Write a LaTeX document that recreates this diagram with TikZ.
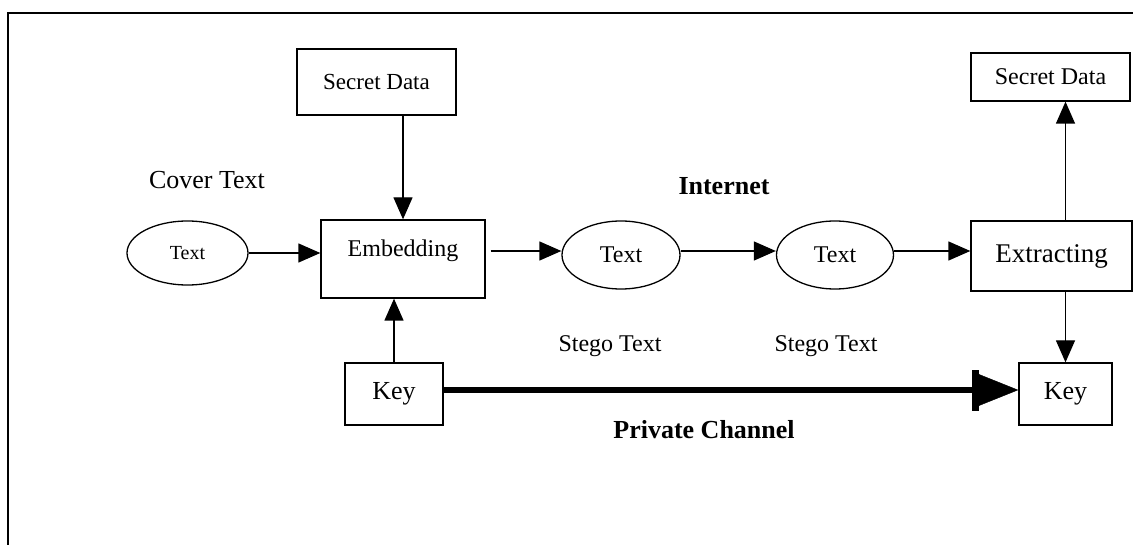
\documentclass[tikz,border=0pt]{standalone}
\usepackage{fontspec}
\setmainfont{Liberation Serif}
\usetikzlibrary{arrows.meta,shapes.geometric,calc}
\begin{document}
\begin{tikzpicture}[x=1pt,y=-1pt,
  box/.style={draw,line width=1.3pt,rectangle,inner sep=0pt,anchor=center},
  oval/.style={draw,line width=1.3pt,ellipse,inner sep=0pt,anchor=center},
  lbl/.style={inner sep=0pt,anchor=center},
  arr/.style={line width=1.3pt,-{Triangle[length=22pt,width=19pt]}},
  thickarr/.style={line width=5.5pt,-{Rectangle[length=6pt,width=40pt,line width=0.5pt] Triangle[length=40pt,width=32pt,line width=0.5pt]}},
  fs/.style={font=\fontsize{#1}{#1}\selectfont}
]
\useasboundingbox (0,0) rectangle (1133,545);
% outer frame (top and left edges)
\draw[line width=1.5pt] (8,545) -- (8,13) -- (1133,13);

% nodes
\node[box,fs=23,minimum width=159pt,minimum height=66pt] (sd1) at (376.5,82) {Secret Data};
\node[lbl,fs=26] (cover) at (207,180) {Cover Text};
\node[oval,fs=20,minimum width=121pt,minimum height=64pt] (t1) at (187.5,253) {Text};
\node[box,fs=24,minimum width=164pt,minimum height=78pt,text height=17pt,text depth=21pt] (emb) at (403,259) {Embedding};
\node[box,fs=26,minimum width=98pt,minimum height=62pt] (key1) at (394,394) {Key};
\node[oval,fs=24,minimum width=118pt,minimum height=68pt] (t2) at (621,255) {Text};
\node[oval,fs=24,minimum width=117pt,minimum height=68pt] (t3) at (835,255) {Text};
\node[box,fs=27,minimum width=161pt,minimum height=70pt] (ext) at (1051.5,256) {Extracting};
\node[box,fs=24,minimum width=159pt,minimum height=48pt] (sd2) at (1050.5,77) {Secret Data};
\node[box,fs=26,minimum width=93pt,minimum height=62pt] (key2) at (1065.5,394) {Key};

\node[lbl,font=\fontsize{26}{26}\selectfont\bfseries] (inet) at (724,186) {Internet};
\node[lbl,fs=24] (st1) at (610,346) {Stego Text};
\node[lbl,fs=24] (st2) at (826,346) {Stego Text};
\node[lbl,font=\fontsize{26}{26}\selectfont\bfseries] (pc) at (704,430) {Private Channel};

% connectors
\draw[arr] (sd1.south -| emb.center) -- (emb.north);
\draw[arr] (key1.north) -- (emb.south -| key1.north);
\draw[arr] (t1.east) -- (emb.west |- t1.east);
\draw[arr] ($(emb.east)+(5,-8)$) -- (t2.west |- 0,251);
\draw[arr] (t2.east |- 0,251) -- (t3.west |- 0,251);
\draw[arr] (t3.east |- 0,251) -- (ext.west |- 0,251);
\draw[arr] (ext.north -| key2.center) -- (sd2.south -| key2.center);
\draw[arr] (ext.south -| key2.center) -- (key2.north);
\draw[thickarr] (key1.east |- 0,390) -- (key2.west |- 0,390);
\end{tikzpicture}
\end{document}
